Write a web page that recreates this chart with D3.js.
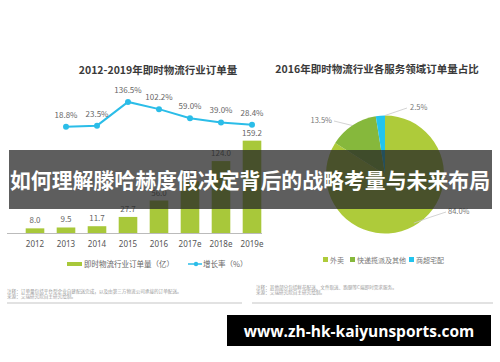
<!DOCTYPE html>
<html>
<head>
<meta charset="utf-8">
<script src="https://cdn.jsdelivr.net/npm/d3@7"></script>
<style>
  html, body { margin: 0; padding: 0; background: #fff; }
  svg { display: block; font-family: "Noto Sans CJK SC", "Noto Sans", sans-serif; }
</style>
</head>
<body>
<svg id="chart" width="500" height="362"></svg>
<script>
// ── Data ───────────────────────────────────────────────
const years = ['2012', '2013', '2014', '2015', '2016', '2017e', '2018e', '2019e'];
const orders = [8.0, 9.5, 11.7, 27.7, 56.0, 89.2, 124.0, 159.2];
const growthYears = ['2013', '2014', '2015', '2016', '2017e', '2018e', '2019e'];
const growth = [18.8, 23.5, 136.5, 102.2, 59.0, 39.0, 28.4];

const pieLabels = ['外卖', '快递揽派及其他', '商超宅配'];
const pieValues = [84.0, 13.5, 2.5];

const leftTitle = '2012-2019年即时物流行业订单量';
const rightTitle = '2016年即时物流行业各服务领域订单量占比';
const barLegend = '即时物流行业订单量（亿）';
const lineLegend = '增长率（%）';
const leftNotes = ['注释：订单量包括平台型企业自建配送完成，以及由第三方物流公司承接的订单配送。', '来源：艾瑞研究院自主研究绘制。'];
const rightNotes = ['注释：其他部分包括鲜花配送、文件取送、跑腿等C端即时需求服务。', '来源：艾瑞研究院自主研究绘制。'];
const overlayText = '如何理解滕哈赫度假决定背后的战略考量与未来布局';
const watermark = 'www.zh-hk-kaiyunsports.com';

const GREEN = '#a8c83a';
const CYAN = '#2bbde8';
const pieColors = ['#aecb3a', '#86b83c', '#22c4ee'];

const svg = d3.select('#chart');

// ── Left chart: bars + growth line ─────────────────────
const x = d3.scaleBand().domain(years).range([19.5, 267.5]).paddingInner(0.4).paddingOuter(0.2);
const yBar = d3.scaleLinear().domain([0, 160]).range([233, 140.2]);
const yLine = d3.scaleLinear().domain([0, 150]).range([130.6, 99.1]);
const cx = d => x(d) + x.bandwidth() / 2;

svg.append('text')
  .attr('x', 158).attr('y', 73.5)
  .attr('text-anchor', 'middle')
  .attr('font-size', 10.5).attr('font-weight', 'bold').attr('fill', '#3a3a3a')
  .text(leftTitle);

svg.selectAll('.bar').data(orders).join('rect')
  .attr('class', 'bar')
  .attr('x', (d, i) => x(years[i]))
  .attr('width', x.bandwidth())
  .attr('y', d => yBar(d))
  .attr('height', d => yBar(0) - yBar(d))
  .attr('fill', GREEN);

svg.selectAll('.bar-label').data(orders).join('text')
  .attr('class', 'bar-label')
  .attr('x', (d, i) => cx(years[i]))
  .attr('y', d => yBar(d) - 5)
  .attr('text-anchor', 'middle')
  .attr('font-size', 8).attr('fill', '#666')
  .text(d => d.toFixed(1));

// x axis
const xAxis = svg.append('g')
  .attr('transform', `translate(0,${yBar(0)})`)
  .call(d3.axisBottom(x).tickSize(0).tickPadding(8));
xAxis.select('.domain').attr('stroke', '#bbb').attr('d', 'M7,0.5H262');
xAxis.selectAll('text').attr('font-size', 8).attr('fill', '#555')
  .attr('font-family', '"Noto Sans", sans-serif');

// growth line
const line = d3.line().x((d, i) => cx(growthYears[i])).y(d => yLine(d));
svg.append('path').datum(growth)
  .attr('d', line)
  .attr('fill', 'none').attr('stroke', CYAN).attr('stroke-width', 2);

svg.selectAll('.pt').data(growth).join('circle')
  .attr('class', 'pt')
  .attr('cx', (d, i) => cx(growthYears[i]))
  .attr('cy', d => yLine(d))
  .attr('r', 3).attr('fill', CYAN);

svg.selectAll('.pt-label').data(growth).join('text')
  .attr('class', 'pt-label')
  .attr('x', (d, i) => cx(growthYears[i]))
  .attr('y', d => yLine(d) - 9)
  .attr('text-anchor', 'middle')
  .attr('font-size', 8).attr('fill', '#666')
  .text(d => d.toFixed(1) + '%');

// legend
svg.append('rect').attr('x', 67).attr('y', 262).attr('width', 15).attr('height', 4).attr('fill', GREEN);
svg.append('text').attr('x', 84).attr('y', 267).attr('font-size', 7.5).attr('fill', '#666').text(barLegend);
svg.append('line').attr('x1', 188).attr('x2', 202).attr('y1', 264).attr('y2', 264)
  .attr('stroke', CYAN).attr('stroke-width', 1.5);
svg.append('circle').attr('cx', 196).attr('cy', 264).attr('r', 2.2).attr('fill', CYAN);
svg.append('text').attr('x', 203).attr('y', 267).attr('font-size', 7.5).attr('fill', '#666').text(lineLegend);

// notes
svg.selectAll('.lnote').data(leftNotes).join('text')
  .attr('class', 'lnote')
  .attr('x', 7).attr('y', (d, i) => 293 + i * 5)
  .attr('font-size', 4.6).attr('fill', '#9a9a9a')
  .text(d => d);
svg.append('rect').attr('x', 7).attr('y', 302).attr('width', 235).attr('height', 2).attr('fill', '#e2e2e2');

// ── Right chart: pie ──────────────────────────────────
svg.append('text')
  .attr('x', 377).attr('y', 72.5)
  .attr('text-anchor', 'middle')
  .attr('font-size', 10.5).attr('font-weight', 'bold').attr('fill', '#3a3a3a')
  .text(rightTitle);

const pcx = 385, pcy = 174.5, R = 59;
const pie = d3.pie().sort(null).value(d => d);
const arcs = pie(pieValues);
const arc = d3.arc().innerRadius(0).outerRadius(R);
const pg = svg.append('g').attr('transform', `translate(${pcx},${pcy})`);
pg.selectAll('path').data(arcs).join('path')
  .attr('d', arc)
  .attr('fill', (d, i) => pieColors[i]);

// pie labels with leader lines (angle of leader start, label spot)
const pieLabelPos = [
  { ang: 2.33, lx: 446, ly: 212, tx: 448, ty: 214, anchor: 'start', curve: true },
  { ang: -0.59, lx: 334, ly: 121, tx: 332, ty: 123, anchor: 'end' },
  { ang: 0.0, lx: 407, ly: 108, tx: 410, ty: 110, anchor: 'start' }
];
const onCircle = a => [pcx + R * Math.sin(a), pcy - R * Math.cos(a)];
arcs.forEach((d, i) => {
  const p = pieLabelPos[i];
  const [sx, sy] = onCircle(p.ang);
  const path = p.curve
    ? `M${sx - 14},${sy + 8}Q${sx + 2},${sy + 2} ${p.lx},${p.ly}`
    : `M${sx},${sy}L${p.lx},${p.ly}`;
  svg.append('path').attr('d', path).attr('fill', 'none')
    .attr('stroke', '#c8c8c8').attr('stroke-width', 0.8);
  svg.append('text')
    .attr('x', p.tx).attr('y', p.ty)
    .attr('text-anchor', p.anchor)
    .attr('font-size', 7.5).attr('fill', '#777')
    .text(pieValues[i].toFixed(1) + '%');
});

// pie legend
const legendX = [323, 350, 409];
pieLabels.forEach((lab, i) => {
  svg.append('rect').attr('x', legendX[i]).attr('y', 257).attr('width', 5).attr('height', 5).attr('fill', pieColors[i]);
  svg.append('text').attr('x', legendX[i] + 7).attr('y', 262.5)
    .attr('font-size', 7).attr('fill', '#777').text(lab);
});

svg.selectAll('.rnote').data(rightNotes).join('text')
  .attr('class', 'rnote')
  .attr('x', 256).attr('y', (d, i) => 289 + i * 5)
  .attr('font-size', 4.6).attr('fill', '#9a9a9a')
  .text(d => d);
svg.append('rect').attr('x', 252).attr('y', 302).attr('width', 241).attr('height', 2).attr('fill', '#e2e2e2');

// ── Overlay banner ────────────────────────────────────
svg.append('rect')
  .attr('x', 9).attr('y', 150).attr('width', 483).attr('height', 59)
  .attr('fill', 'rgba(38,38,38,0.74)');
svg.append('text')
  .attr('x', 250).attr('y', 188)
  .attr('text-anchor', 'middle')
  .attr('font-size', 21).attr('font-weight', 'bold').attr('fill', '#fff')
  .attr('textLength', 480).attr('lengthAdjust', 'spacingAndGlyphs')
  .text(overlayText);

// ── Watermark ─────────────────────────────────────────
svg.append('rect').attr('x', 227).attr('y', 315).attr('width', 264).attr('height', 31).attr('fill', '#000');
svg.append('text')
  .attr('x', 359).attr('y', 336.5)
  .attr('text-anchor', 'middle')
  .attr('font-family', '"Open Sans", "DejaVu Sans", sans-serif')
  .attr('font-size', 15.5).attr('font-weight', 'bold').attr('fill', '#fff')
  .text(watermark);
</script>
</body>
</html>
